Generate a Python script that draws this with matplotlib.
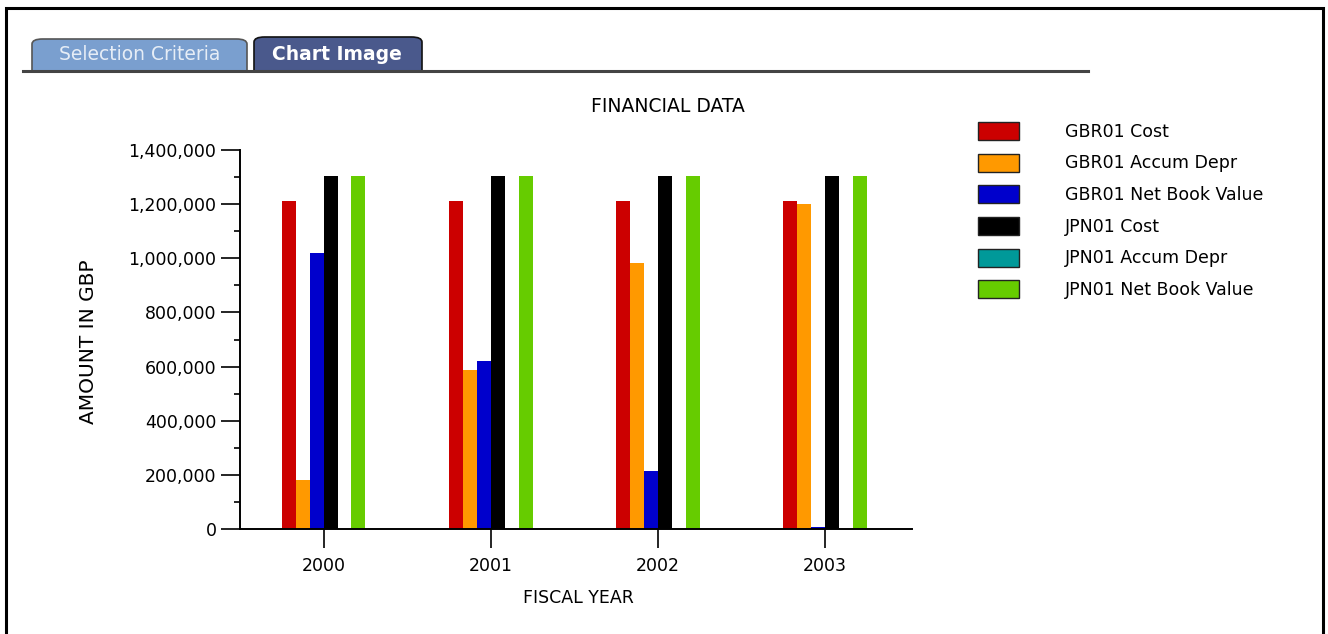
import matplotlib
matplotlib.use("Agg")
import matplotlib.pyplot as plt
import numpy as np
from matplotlib.patches import FancyBboxPatch, Patch, Rectangle
from matplotlib.ticker import FuncFormatter, MultipleLocator

years = ["2000", "2001", "2002", "2003"]
series_names = [
    "GBR01 Cost",
    "GBR01 Accum Depr",
    "GBR01 Net Book Value",
    "JPN01 Cost",
    "JPN01 Accum Depr",
    "JPN01 Net Book Value",
]
gbr_cost = [1213000, 1213000, 1213000, 1213000]
gbr_depr = [180000, 587000, 984000, 1200000]
gbr_net = [1020000, 622000, 216000, 9000]
jpn_cost = [1305000, 1305000, 1305000, 1305000]
jpn_depr = [0, 0, 0, 0]
jpn_net = [1305000, 1305000, 1305000, 1305000]
colors = ["#cc0000", "#ff9900", "#0000cc", "#000000", "#009999", "#66cc00"]

W, H = 1328, 634


def fx(px):
    return px / W


def fy(py):
    return 1 - py / H


fig = plt.figure(figsize=(W / 100, H / 100), dpi=100)
fig.patch.set_facecolor("white")

# outer frame and tab strip
fig.add_artist(Rectangle((fx(6), fy(H + 10)), fx(1317), (H + 2) / H, transform=fig.transFigure,
                         fill=False, edgecolor="black", linewidth=2.2))
fig.add_artist(FancyBboxPatch((fx(32), fy(80)), fx(215), (80 - 39) / H,
                              boxstyle="round,pad=0,rounding_size=0.008", transform=fig.transFigure,
                              facecolor="#7a9fcf", edgecolor="#555555", linewidth=1.2))
fig.add_artist(FancyBboxPatch((fx(254), fy(80)), fx(168), (80 - 37) / H,
                              boxstyle="round,pad=0,rounding_size=0.008", transform=fig.transFigure,
                              facecolor="#4a598c", edgecolor="#111111", linewidth=1.2))
fig.add_artist(Rectangle((fx(25), fy(84)), fx(410), 13 / H, transform=fig.transFigure,
                         facecolor="white", edgecolor="none", zorder=3))
fig.add_artist(plt.Line2D([fx(23), fx(1088)], [fy(70.5), fy(70.5)], transform=fig.transFigure,
                          color="#444444", linewidth=2.2, zorder=4))
fig.text(fx(140), fy(55), "Selection Criteria", ha="center", va="center", fontsize=13.5,
         color="#e6edf6")
fig.text(fx(337), fy(55), "Chart Image", ha="center", va="center", fontsize=13.5,
         fontweight="bold", color="white")

ax = fig.add_axes((fx(240), fy(529), fx(672), (529 - 150) / H))

values = [gbr_cost, gbr_depr, gbr_net, jpn_cost, jpn_depr, jpn_net]
x = np.arange(len(years))
width = 1 / 12
for i, (vals, color) in enumerate(zip(values, colors)):
    ax.bar(x + (i - 2.5) * width, vals, width=width, color=color, linewidth=0)

ax.set_xlim(-0.5, 3.52)
ax.set_ylim(0, 1400000)
ax.set_xticks(x)
ax.set_xticklabels(years)
ax.yaxis.set_major_locator(MultipleLocator(200000))
ax.yaxis.set_minor_locator(MultipleLocator(100000))
ax.yaxis.set_major_formatter(FuncFormatter(lambda v, pos: f"{v:,.0f}"))
for side in ("top", "right"):
    ax.spines[side].set_visible(False)
for side in ("left", "bottom"):
    ax.spines[side].set_linewidth(1.4)
ax.tick_params(axis="y", which="major", length=14, width=1.2, pad=3, labelsize=12.5)
ax.tick_params(axis="y", which="minor", length=4, width=1.2)
ax.tick_params(axis="x", which="major", length=13.5, width=1.2, pad=7, labelsize=12.5)

fig.text(fx(668), fy(106), "FINANCIAL DATA", ha="center", va="center", fontsize=13.5)
fig.text(fx(578), fy(598), "FISCAL YEAR", ha="center", va="center", fontsize=12.5)
fig.text(fx(88), fy(342), "AMOUNT IN GBP", ha="center", va="center", rotation=90, fontsize=14.5)

handles = [Patch(facecolor=c, edgecolor="#222222", linewidth=1.0) for c in colors]
fig.legend(handles, series_names, loc="upper left", bbox_to_anchor=(fx(978), fy(122)),
           frameon=False, fontsize=12.5, handlelength=2.36, handleheight=1.21,
           handletextpad=2.65, labelspacing=0.74, borderpad=0, borderaxespad=0)

fig.savefig("out.png", dpi=100)
